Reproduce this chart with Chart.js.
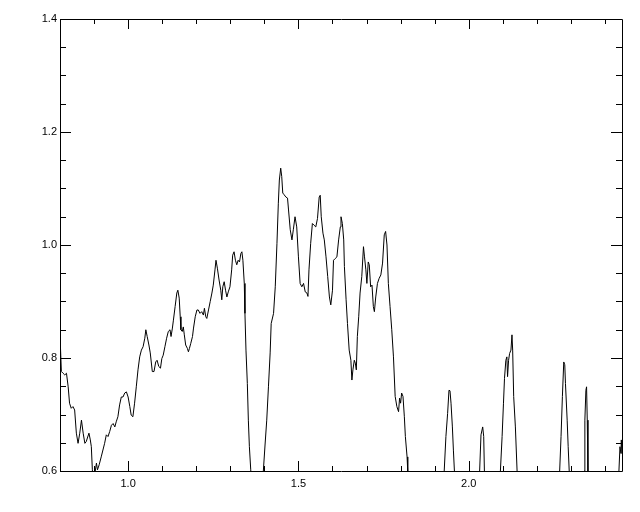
<!DOCTYPE html>
<html>
<head>
<meta charset="utf-8">
<script src="https://cdn.jsdelivr.net/npm/chart.js@4"></script>
<style>
html,body{margin:0;padding:0;background:#fff;}
canvas{display:block;}
</style>
</head>
<body>
<canvas id="c" width="640" height="512"></canvas>
<script>
// Wavelength (x) and flux (y)
const wavelength = [
0.800,0.804,0.809,0.814,0.819,0.824,0.828,0.833,0.838,0.843,0.848,0.853,0.858,0.863,0.868,0.873,0.877,0.885,0.889,0.892,
0.895,0.898,0.903,0.907,0.910,0.915,0.921,0.931,0.936,0.941,0.946,0.951,0.956,0.961,0.965,0.970,0.975,0.980,0.985,0.990,
0.995,1.000,1.005,1.009,1.014,1.019,1.024,1.029,1.034,1.039,1.044,1.049,1.052,1.056,1.061,1.065,1.071,1.076,1.081,1.085,
1.090,1.095,1.099,1.103,1.108,1.113,1.118,1.123,1.126,1.130,1.133,1.138,1.143,1.146,1.150,1.153,1.155,1.159,1.162,1.165,
1.169,1.174,1.177,1.180,1.184,1.189,1.192,1.197,1.202,1.206,1.211,1.216,1.221,1.224,1.228,1.231,1.236,1.241,1.246,1.250,
1.255,1.258,1.262,1.267,1.272,1.275,1.278,1.282,1.286,1.290,1.294,1.299,1.304,1.307,1.311,1.315,1.319,1.323,1.327,1.331,
1.334,1.337,1.341,1.343,1.346,1.350,1.353,1.356,1.360,1.367,1.379,1.390,1.397,1.402,1.407,1.412,1.417,1.420,1.427,1.432,
1.437,1.441,1.444,1.448,1.451,1.454,1.458,1.463,1.468,1.471,1.476,1.481,1.485,1.490,1.495,1.500,1.505,1.510,1.515,1.520,
1.525,1.528,1.531,1.536,1.541,1.546,1.551,1.556,1.561,1.564,1.567,1.572,1.576,1.581,1.586,1.591,1.595,1.600,1.603,1.608,
1.613,1.618,1.623,1.625,1.629,1.633,1.635,1.640,1.644,1.649,1.654,1.657,1.660,1.664,1.667,1.670,1.673,1.677,1.681,1.686,
1.691,1.694,1.698,1.701,1.705,1.708,1.712,1.716,1.720,1.723,1.727,1.732,1.737,1.742,1.747,1.752,1.756,1.760,1.764,1.769,
1.774,1.779,1.784,1.789,1.794,1.797,1.800,1.803,1.807,1.811,1.814,1.819,1.821,1.828,1.872,1.916,1.928,1.933,1.938,1.942,
1.945,1.948,1.952,1.955,1.958,1.966,1.996,2.025,2.032,2.036,2.041,2.044,2.046,2.054,2.075,2.087,2.093,2.098,2.102,2.105,
2.109,2.112,2.114,2.117,2.120,2.124,2.127,2.129,2.132,2.137,2.142,2.148,2.204,2.260,2.267,2.271,2.275,2.279,2.282,2.284,
2.289,2.292,2.295,2.301,2.319,2.334,2.339,2.341,2.344,2.346,2.348,2.350,2.357,2.401,2.436,2.441,2.444,2.447,2.448,2.450
];
const flux = [
0.841,0.776,0.773,0.770,0.773,0.749,0.720,0.711,0.714,0.708,0.667,0.649,0.667,0.690,0.667,0.649,0.652,0.667,0.655,0.643,
0.602,0.584,0.598,0.614,0.602,0.611,0.625,0.649,0.664,0.661,0.670,0.681,0.684,0.678,0.687,0.696,0.717,0.731,0.731,0.738,
0.740,0.731,0.714,0.699,0.696,0.720,0.749,0.779,0.802,0.814,0.820,0.835,0.850,0.838,0.823,0.809,0.776,0.776,0.793,0.796,
0.785,0.782,0.799,0.805,0.820,0.835,0.847,0.850,0.838,0.853,0.867,0.891,0.915,0.920,0.906,0.873,0.850,0.847,0.855,0.841,
0.823,0.817,0.811,0.817,0.826,0.838,0.853,0.873,0.885,0.885,0.879,0.882,0.876,0.888,0.873,0.870,0.885,0.900,0.915,0.929,
0.956,0.973,0.959,0.938,0.920,0.903,0.926,0.935,0.920,0.908,0.917,0.926,0.956,0.982,0.988,0.973,0.965,0.973,0.970,0.985,
0.988,0.973,0.932,0.879,0.814,0.755,0.690,0.643,0.602,0.531,0.478,0.531,0.600,0.646,0.690,0.749,0.809,0.861,0.879,0.926,
1.003,1.074,1.115,1.136,1.121,1.092,1.089,1.085,1.083,1.062,1.027,1.009,1.027,1.050,1.032,0.979,0.932,0.926,0.932,0.917,
0.915,0.909,0.956,1.003,1.038,1.035,1.032,1.047,1.085,1.088,1.050,1.021,1.009,0.979,0.944,0.908,0.894,0.920,0.973,0.976,
0.979,1.009,1.032,1.050,1.038,1.009,0.962,0.903,0.861,0.814,0.796,0.761,0.779,0.796,0.791,0.779,0.838,0.873,0.915,0.944,
0.997,0.979,0.956,0.932,0.970,0.965,0.926,0.929,0.891,0.882,0.908,0.932,0.941,0.947,0.968,1.018,1.024,1.000,0.932,0.891,
0.850,0.802,0.732,0.714,0.705,0.729,0.720,0.738,0.732,0.696,0.661,0.625,0.599,0.549,0.513,0.549,0.600,0.661,0.702,0.743,
0.742,0.720,0.678,0.637,0.600,0.549,0.513,0.549,0.600,0.664,0.678,0.661,0.600,0.549,0.531,0.566,0.600,0.661,0.720,0.764,
0.796,0.802,0.767,0.796,0.808,0.814,0.841,0.814,0.732,0.678,0.600,0.549,0.513,0.549,0.600,0.661,0.732,0.793,0.788,0.755,
0.690,0.643,0.600,0.549,0.531,0.566,0.600,0.690,0.743,0.749,0.690,0.600,0.549,0.513,0.549,0.600,0.643,0.631,0.655,0.631
];

const xRange = [0.8, 2.45];
const yRange = [0.6, 1.4];
const xMajorTicks = [1.0, 1.5, 2.0];
const xMinorTicks = [0.9, 1.1, 1.2, 1.3, 1.4, 1.6, 1.7, 1.8, 1.9, 2.1, 2.2, 2.3, 2.4];
const yMajorTicks = [0.6, 0.8, 1.0, 1.2, 1.4];
const yMinorTicks = [0.65, 0.7, 0.75, 0.85, 0.9, 0.95, 1.05, 1.1, 1.15, 1.25, 1.3, 1.35];

const points = wavelength.map((w, i) => ({x: w, y: flux[i]}));

const frameTicks = {
  id: 'frameTicks',
  afterDatasetsDraw(chart) {
    const {ctx, chartArea: a, scales: {x, y}} = chart;
    ctx.save();
    ctx.strokeStyle = '#000';
    ctx.lineWidth = 1;
    ctx.beginPath();
    ctx.rect(Math.round(a.left) + 0.5, Math.round(a.top) + 0.5,
             Math.round(a.right - a.left), Math.round(a.bottom - a.top));
    ctx.stroke();
    const xt = (v, len) => {
      const px = Math.round(x.getPixelForValue(v)) + 0.5;
      ctx.moveTo(px, a.bottom); ctx.lineTo(px, a.bottom - len);
      ctx.moveTo(px, a.top); ctx.lineTo(px, a.top + len);
    };
    const yt = (v, len) => {
      const py = Math.round(y.getPixelForValue(v)) + 0.5;
      ctx.moveTo(a.left, py); ctx.lineTo(a.left + len, py);
      ctx.moveTo(a.right, py); ctx.lineTo(a.right - len, py);
    };
    ctx.beginPath();
    xMajorTicks.forEach(v => xt(v, 10));
    xMinorTicks.forEach(v => xt(v, 5));
    yMajorTicks.forEach(v => yt(v, 11));
    yMinorTicks.forEach(v => yt(v, 6));
    ctx.stroke();
    ctx.restore();
  }
};

const font = {family: '"Liberation Sans", Arial, sans-serif', size: 11};

new Chart(document.getElementById('c'), {
  type: 'line',
  data: {
    datasets: [{
      data: points,
      borderColor: '#000',
      borderWidth: 1,
      pointRadius: 0,
      tension: 0,
      fill: false
    }]
  },
  options: {
    responsive: false,
    animation: false,
    events: [],
    layout: {padding: {top: 19, right: 18, left: 0, bottom: 0}},
    plugins: {legend: {display: false}, tooltip: {enabled: false}},
    scales: {
      x: {
        type: 'linear',
        min: xRange[0], max: xRange[1],
        grid: {display: false, drawTicks: false},
        border: {display: false},
        afterBuildTicks: s => { s.ticks = xMajorTicks.map(v => ({value: v})); },
        afterFit: s => { s.height = 41; },
        ticks: {font, color: '#000', padding: 6, maxRotation: 0, autoSkip: false,
                callback: v => Number(v).toFixed(1)}
      },
      y: {
        min: yRange[0], max: yRange[1],
        grid: {display: false, drawTicks: false},
        border: {display: false},
        afterBuildTicks: s => { s.ticks = yMajorTicks.map(v => ({value: v})); },
        afterFit: s => { s.width = 60; },
        ticks: {font, color: '#000', padding: 3, autoSkip: false,
                callback: v => Number(v).toFixed(1)}
      }
    }
  },
  plugins: [frameTicks]
});
</script>
</body>
</html>
